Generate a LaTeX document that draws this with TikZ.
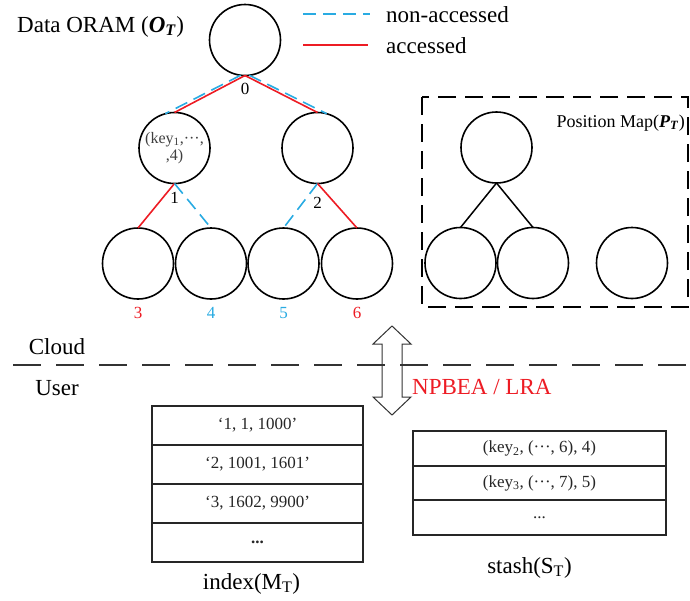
\documentclass[tikz,border=0pt]{standalone}
\usepackage{fontspec}
\setmainfont{Liberation Serif}
\usetikzlibrary{positioning}
\definecolor{accred}{HTML}{ED1C24}
\definecolor{naccblue}{HTML}{29ABE2}
\newcommand{\mdots}{\textperiodcentered\textperiodcentered\textperiodcentered}
\begin{document}
\begin{tikzpicture}[
    x=1pt, y=-1pt,
    treenode/.style={
      circle, draw=black, line width=1.6pt,
      minimum size=71pt, inner sep=0pt, outer sep=0pt
    },
    acc/.style={accred, line width=1.6pt},
    nonacc/.style={naccblue, line width=1.6pt, dash pattern=on 13pt off 7pt},
    plain/.style={black, line width=1.5pt},
    numlbl/.style={inner sep=0pt, font=\fontsize{17}{20}\selectfont},
    bigtext/.style={inner sep=0pt, font=\fontsize{23}{27}\selectfont},
    pmbox/.style={black, line width=1.6pt, dash pattern=on 18pt off 9pt},
    divider/.style={black!80, line width=1.6pt, dash pattern=on 28pt off 15pt},
    cell/.style={
      draw=black!85, line width=1.6pt, inner sep=0pt, outer sep=0pt,
      minimum height=39pt, text=black!85, font=\fontsize{17}{20}\selectfont
    },
]
\useasboundingbox (0,0) rectangle (690,600);

% ===== DATA ORAM TREE =====
\node[bigtext, anchor=base west] (title) at (17,32)
  {Data ORAM (\textbf{\textit{O}}\textsubscript{\textbf{\textit{T}}})};

\node[treenode] (root) at (245,40) {};
\node[treenode, align=center, text=black!75, font=\fontsize{16}{17}\selectfont]
  (n1) at (174.5,148) {(key\textsubscript{1},\mdots,\\,4)};
\node[treenode] (n2) at (317.5,148) {};
\node[treenode] (l3) at (138,263.5) {};
\node[treenode] (l4) at (211,263.5) {};
\node[treenode] (l5) at (283.5,263.5) {};
\node[treenode] (l6) at (357,263.5) {};

% bucket numbers
\node[numlbl, below=7pt of root] (lbl0) {0};
\node[numlbl, below=9pt of n1] (lbl1) {1};
\node[numlbl, below=14pt of n2] (lbl2) {2};
\node[numlbl, text=accred, below=8pt of l3] (lbl3) {3};
\node[numlbl, text=naccblue, below=8pt of l4] (lbl4) {4};
\node[numlbl, text=naccblue, below=8pt of l5] (lbl5) {5};
\node[numlbl, text=accred, below=8pt of l6] (lbl6) {6};

% paths (accessed / non-accessed)
\draw[nonacc] (root.263) -- (n1.105);
\draw[acc] (root.south) -- (n1.north);
\draw[nonacc] (root.277) -- (n2.75);
\draw[acc] (root.south) -- (n2.north);
\draw[acc] (n1.south) -- (l3.north);
\draw[nonacc] (n1.south) -- (l4.north);
\draw[nonacc] (n2.south) -- (l5.north);
\draw[acc] (n2.south) -- (l6.north);

% ===== LEGEND =====
\node[bigtext, anchor=base west] (legna) at (386,22) {non-accessed};
\node[bigtext, anchor=base west] (lega) at (386,53) {accessed};
\draw[nonacc] ([xshift=-83pt]legna.west) -- ([xshift=-16pt]legna.west);
\draw[acc] ([xshift=-83pt]lega.west) -- ([xshift=-18pt]lega.west);

% ===== POSITION MAP =====
\draw[pmbox] (422,97) rectangle (688,307);
\node[inner sep=0pt, anchor=east, font=\fontsize{18}{21}\selectfont] (pmtitle) at (685,123)
  {Position Map(\textbf{\textit{P}}\textsubscript{\textbf{\textit{T}}})};
\node[treenode] (pmr) at (496.5,147.5) {};
\node[treenode] (pm1) at (460.5,263) {};
\node[treenode] (pm2) at (533,263) {};
\node[treenode] (pm3) at (632,263) {};
\draw[plain] (pmr.south) -- (pm1.north);
\draw[plain] (pmr.south) -- (pm2.north);

% ===== CLOUD / USER BOUNDARY =====
\coordinate (divl) at (13,365);
\coordinate (divr) at (690,365);
\draw[divider] (divl) -- (divr);
\node[bigtext] (cloud) at (57,347) {Cloud};
\node[bigtext] (user) at (57,388) {User};

% exchange arrow
\coordinate (xchg) at (392,370.5);
\draw[black!80, line width=1pt] (xchg) ++(0,-44.5) -- ++(19,18) -- ++(-9,0) -- ++(0,53)
  -- ++(9,0) -- ++(-19,18) -- ++(-19,-18) -- ++(9,0) -- ++(0,-53) -- ++(-9,0) -- cycle;
\node[bigtext, text=accred, anchor=west] (proto) at (412,387) {NPBEA / LRA};

% ===== INDEX TABLE =====
\node[cell, minimum width=211pt] (m1) at (257.5,425.5) {‘1, 1, 1000’};
\node[cell, minimum width=211pt, below=0pt of m1] (m2) {‘2, 1001, 1601’};
\node[cell, minimum width=211pt, below=0pt of m2] (m3) {‘3, 1602, 9900’};
\node[cell, minimum width=211pt, below=0pt of m3] (m4) {\textbf{...}};
\node[bigtext, below=11pt of m4, xshift=-6pt] (idxlbl) {index(M\textsubscript{T})};

% ===== STASH =====
\node[cell, minimum width=253pt, minimum height=35pt] (s1) at (539.5,448.5)
  {(key\textsubscript{2}, (\mdots, 6), 4)};
\node[cell, minimum width=253pt, minimum height=34pt, below=0pt of s1] (s2)
  {(key\textsubscript{3}, (\mdots, 7), 5)};
\node[cell, minimum width=253pt, minimum height=35pt, below=0pt of s2] (s3) {...};
\node[bigtext, below=22pt of s3, xshift=-10pt] (stashlbl) {stash(S\textsubscript{T})};

\end{tikzpicture}
\end{document}
